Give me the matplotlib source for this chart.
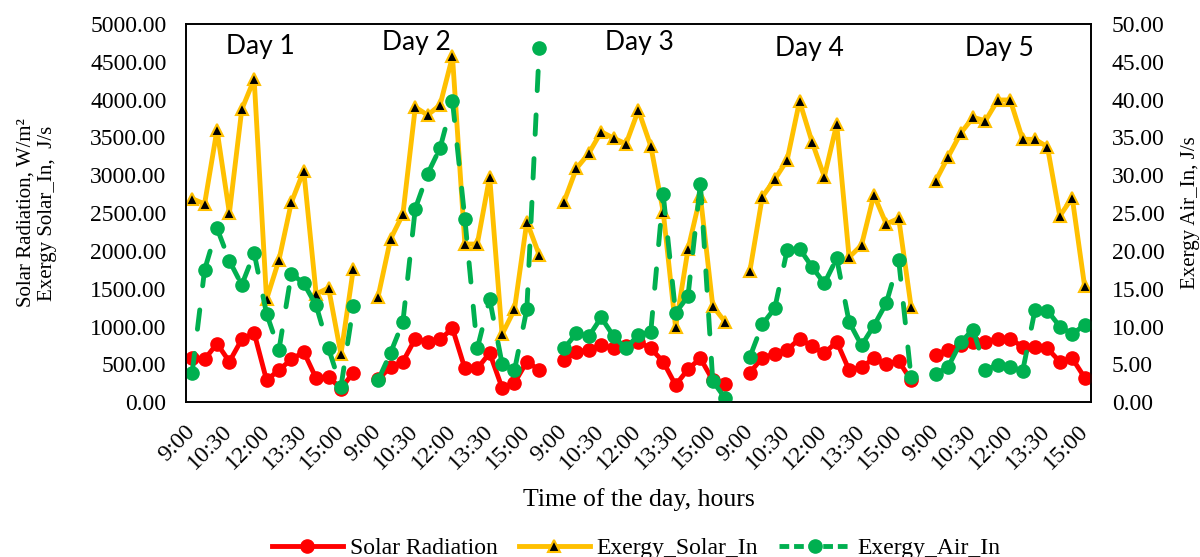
import numpy as np
import matplotlib
matplotlib.use("Agg")
import matplotlib.pyplot as plt
from matplotlib.lines import Line2D

plt.rcParams['font.family'] = ['Liberation Serif', 'DejaVu Serif']

# time slots of one day (30 min steps), one empty slot closes each day
times = ["9:00", "9:30", "10:00", "10:30", "11:00", "11:30", "12:00", "12:30",
         "13:00", "13:30", "14:00", "14:30", "15:00", "15:30", "16:00"]
days = ["Day 1", "Day 2", "Day 3", "Day 4", "Day 5"]

# Solar radiation, W/m2 (left axis)
solar_rad = [
    [590, 565, 775, 535, 830, 915, 290, 425, 565, 665, 315, 335, 180, 390],
    [300, 465, 535, 840, 800, 830, 975, 445, 445, 650, 190, 255, 535, 425],
    [555, 665, 690, 755, 710, 740, 800, 710, 535, 225, 435, 580, 290, 245],
    [390, 590, 635, 690, 840, 740, 645, 800, 425, 460, 580, 505, 545, 290],
    [620, 690, 755, 800, 800, 840, 840, 730, 730, 710, 535, 580, 325],
]
# Exergy Solar_In, J/s (left axis)
ex_solar = [
    [2690, 2620, 3600, 2500, 3870, 4270, 1360, 1880, 2640, 3060, 1430, 1510, 635, 1760],
    [1395, 2155, 2485, 3900, 3795, 3930, 4570, 2090, 2090, 2980, 895, 1225, 2385, 1945],
    [2650, 3090, 3290, 3575, 3490, 3415, 3860, 3385, 2520, 990, 2020, 2725, 1270, 1060],
    [1740, 2715, 2945, 3200, 3980, 3445, 2980, 3675, 1915, 2075, 2740, 2355, 2430, 1260],
    [2930, 3245, 3555, 3765, 3720, 3995, 3995, 3475, 3475, 3375, 2460, 2705, 1535],
]
# Exergy Air_In, J/s (right axis)
ex_air = [
    [3.9, 17.5, 23.0, 18.7, 15.5, 19.7, 11.7, 6.9, 17.0, 15.7, 12.8, 7.1, 2.0, 12.7],
    [2.9, 6.5, 10.6, 25.6, 30.2, 33.6, 39.8, 24.2, 7.1, 13.6, 5.1, 4.2, 12.3, 46.8],
    [7.1, 9.1, 8.7, 11.2, 8.7, 7.1, 8.9, 9.3, 27.5, 11.8, 14.0, 28.9, 2.8, 0.5],
    [6.0, 10.3, 12.4, 20.1, 20.3, 17.9, 15.7, 19.0, 10.6, 7.5, 10.1, 13.1, 18.8, 3.3],
    [3.7, 4.7, 7.9, 9.6, 4.3, 4.9, 4.7, 4.1, 12.2, 12.1, 10.0, 9.0, 10.2],
]

RED = "#FF0000"
ORANGE = "#FFC000"
GREEN = "#00B050"

n_slots = len(times)
n_cat = n_slots * (len(days) - 1) + len(solar_rad[-1])


def flatten(series):
    out = np.full(n_cat, np.nan)
    for d, vals in enumerate(series):
        out[d * n_slots:d * n_slots + len(vals)] = vals
    return out


x = np.arange(n_cat)
y_rad = flatten(solar_rad)
y_sol = flatten(ex_solar)
y_air = flatten(ex_air)

fig = plt.figure(figsize=(12, 5.57), dpi=100)
ax = fig.add_axes([0.155, 0.278, 0.754, 0.679])
ax2 = ax.twinx()

lw = 3.5
ax.plot(x, y_rad, color=RED, lw=lw, marker="o", ms=9.5, zorder=3)
ax.plot(x, y_sol, color=ORANGE, lw=lw, marker="^", ms=9, mfc="black",
        mec=ORANGE, mew=1.5, zorder=2)

# Excel restarts the dash pattern on every segment
for i in range(n_cat - 1):
    if np.isnan(y_air[i]) or np.isnan(y_air[i + 1]):
        continue
    ax2.plot(x[i:i + 2], y_air[i:i + 2], color=GREEN, lw=lw,
             dashes=(4, 5), dash_capstyle="round")
ax2.plot(x, y_air, color=GREEN, lw=0, marker="o", ms=9.5)

ax.set_xlim(-0.5, n_cat - 0.5)
ax.set_ylim(0, 5000)
ax2.set_ylim(0, 50)
ax.set_yticks(np.arange(0, 5001, 500))
ax2.set_yticks(np.arange(0, 51, 5))
ax.set_yticklabels([f"{v:.2f}" for v in np.arange(0, 5001, 500)])
ax2.set_yticklabels([f"{v:.2f}" for v in np.arange(0, 51, 5)])

tick_pos = [i for i in range(n_cat) if i % 3 == 0 and i % n_slots != n_slots - 1 and not np.isnan(y_rad[i])]
ax.set_xticks(tick_pos)
ax.set_xticklabels([times[i % n_slots] for i in tick_pos], rotation=45,
                   ha="right", va="center", rotation_mode="anchor")

ax.tick_params(axis="x", length=0, pad=19, labelsize=17)
ax.tick_params(axis="y", length=0, pad=14, labelsize=17)
ax2.tick_params(axis="y", length=0, pad=15, labelsize=17)
for a in (ax, ax2):
    for s in a.spines.values():
        s.set_color("black")
        s.set_linewidth(1.2)

ax.set_ylabel("Solar Radiation, W/m\u00b2\nExergy Solar_In,  J/s", fontsize=15,
              labelpad=24, linespacing=1.15)
ax2.set_ylabel("Exergy Air_In, J/s", fontsize=15, labelpad=12)
ax.set_xlabel("Time of the day, hours", fontsize=18.5, labelpad=10)

# day captions
day_pos = [(5.5, 4700), (18.1, 4760), (36.1, 4760), (49.8, 4680), (65.1, 4680)]
for name, (xc, yc) in zip(days, day_pos):
    ax.text(xc, yc, name, ha="center", va="center", fontsize=19,
            family=["Lato", "DejaVu Sans"])

handles = [
    Line2D([], [], color=RED, lw=lw, marker="o", ms=9.5),
    Line2D([], [], color=ORANGE, lw=lw, marker="^", ms=9, mfc="black", mec=ORANGE, mew=1.5),
    Line2D([], [], color=GREEN, lw=lw, marker="o", ms=9.5, dashes=(2, 1)),
]
fig.legend(handles, ["Solar Radiation", "Exergy_Solar_In", "Exergy_Air_In"],
           loc="center", bbox_to_anchor=(0.53, 0.015), ncol=3, frameon=False,
           fontsize=17, handlelength=3.0, columnspacing=0.9, handletextpad=0.3)

fig.savefig("out.png", dpi=100)
